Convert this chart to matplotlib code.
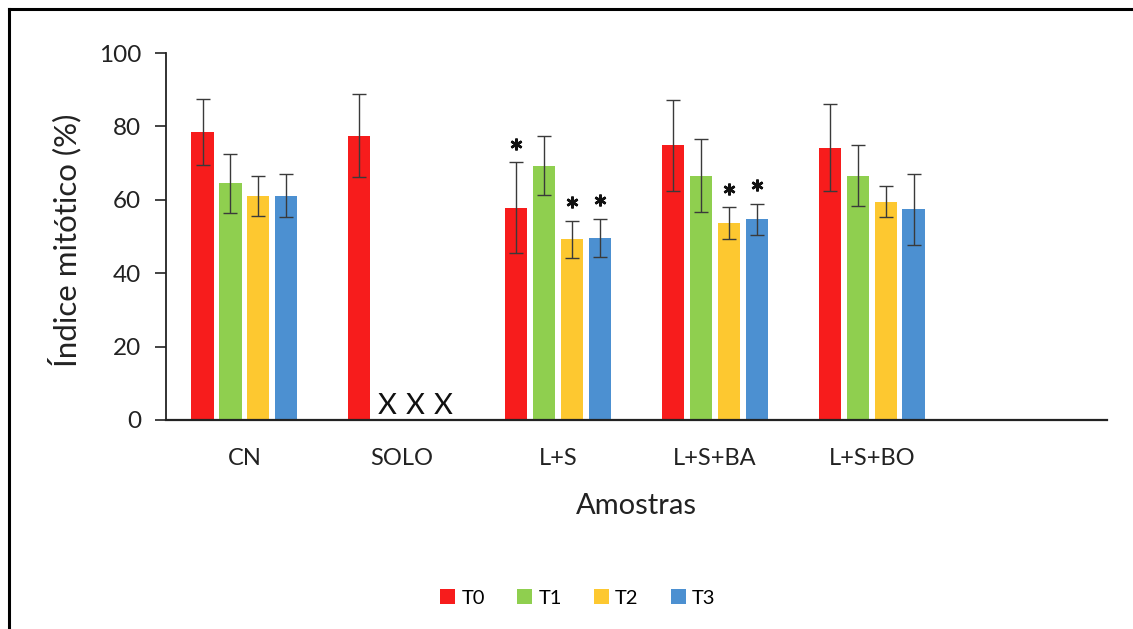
import matplotlib
matplotlib.use("Agg")
import matplotlib.pyplot as plt
from matplotlib.lines import Line2D
import numpy as np

plt.rcParams['font.family'] = ['Lato', 'DejaVu Sans']

categories = ["CN", "SOLO", "L+S", "L+S+BA", "L+S+BO", ""]
series = ["T0", "T1", "T2", "T3"]
colors = ["#f71c1c", "#8fcf4f", "#fdc830", "#4c90d1"]

t0 = [78.6, 77.5, 57.9, 74.8, 74.2, np.nan]
t1 = [64.5, np.nan, 69.3, 66.6, 66.6, np.nan]
t2 = [61.1, np.nan, 49.2, 53.6, 59.5, np.nan]
t3 = [61.1, np.nan, 49.7, 54.7, 57.4, np.nan]
values = [t0, t1, t2, t3]

e0 = [9.0, 11.2, 12.3, 12.3, 11.8, np.nan]
e1 = [8.0, np.nan, 8.0, 10.0, 8.3, np.nan]
e2 = [5.4, np.nan, 5.1, 4.4, 4.2, np.nan]
e3 = [5.8, np.nan, 5.2, 4.2, 9.6, np.nan]
errors = [e0, e1, e2, e3]

# significance stars: (category index, series index)
stars = [(2, 0), (2, 2), (2, 3), (3, 2), (3, 3)]
# missing samples marked with X: (category index, series index)
missing = [(1, 1), (1, 2), (1, 3)]

fig = plt.figure(figsize=(11.33, 6.29), dpi=100)
ax = fig.add_axes([0.1465, 0.3323, 0.8305, 0.5834])

x = np.arange(len(categories))
step = 0.178
width = 0.142
offsets = (np.arange(len(series)) - 1.5) * step

for i, (name, vals, errs, c) in enumerate(zip(series, values, errors, colors)):
    ax.bar(x + offsets[i], vals, width, color=c, label=name, zorder=2)
    ax.errorbar(x + offsets[i], vals, yerr=errs, fmt='none', ecolor='#3a3a3a',
                elinewidth=1.0, capsize=5, capthick=1.0, zorder=3)

for ci, si in stars:
    top = values[si][ci] + errors[si][ci]
    ax.plot(x[ci] + offsets[si], top + 5.0, linestyle='none', marker=(6, 2, 0),
            markersize=8.5, markeredgewidth=1.8, color='#111111', zorder=4)

for ci, si in missing:
    ax.text(x[ci] + offsets[si], 0.4, "X", ha='center', va='bottom',
            fontsize=21, color='#111111', zorder=4)

ax.set_xlim(-0.5, len(categories) - 0.5)
ax.set_ylim(0, 100)
ax.set_yticks([0, 20, 40, 60, 80, 100])
ax.set_xticks(x[:5])
ax.set_xticklabels(categories[:5], fontsize=17, color='#222222')
ax.tick_params(axis='x', length=0, pad=20)
ax.tick_params(axis='y', length=8, width=1.2, labelsize=17.5, pad=10,
               color='#222222', labelcolor='#222222')
for s in ['top', 'right']:
    ax.spines[s].set_visible(False)
ax.spines['left'].set_linewidth(1.3)
ax.spines['bottom'].set_linewidth(1.6)
ax.spines['left'].set_color('#222222')
ax.spines['bottom'].set_color('#222222')

ax.set_ylabel("Índice mitótico (%)", fontsize=22.5, color='#222222')
ax.yaxis.set_label_coords(-0.09, 0.49)
ax.set_xlabel("Amostras", fontsize=21, color='#222222')
ax.xaxis.set_label_coords(0.5, -0.2)

leg = fig.legend(loc='center', bbox_to_anchor=(0.51, 0.049), ncol=4, frameon=False,
                 fontsize=14.5, handlelength=0.75, handleheight=0.75,
                 handletextpad=0.3, columnspacing=1.6)

# outer border (top and left only)
fig.add_artist(Line2D([0.008, 1.0], [0.985, 0.985], transform=fig.transFigure,
                      color='black', linewidth=2.2))
fig.add_artist(Line2D([0.008, 0.008], [0.0, 0.985], transform=fig.transFigure,
                      color='black', linewidth=2.2))

fig.savefig("out.png", dpi=100, facecolor='white')
